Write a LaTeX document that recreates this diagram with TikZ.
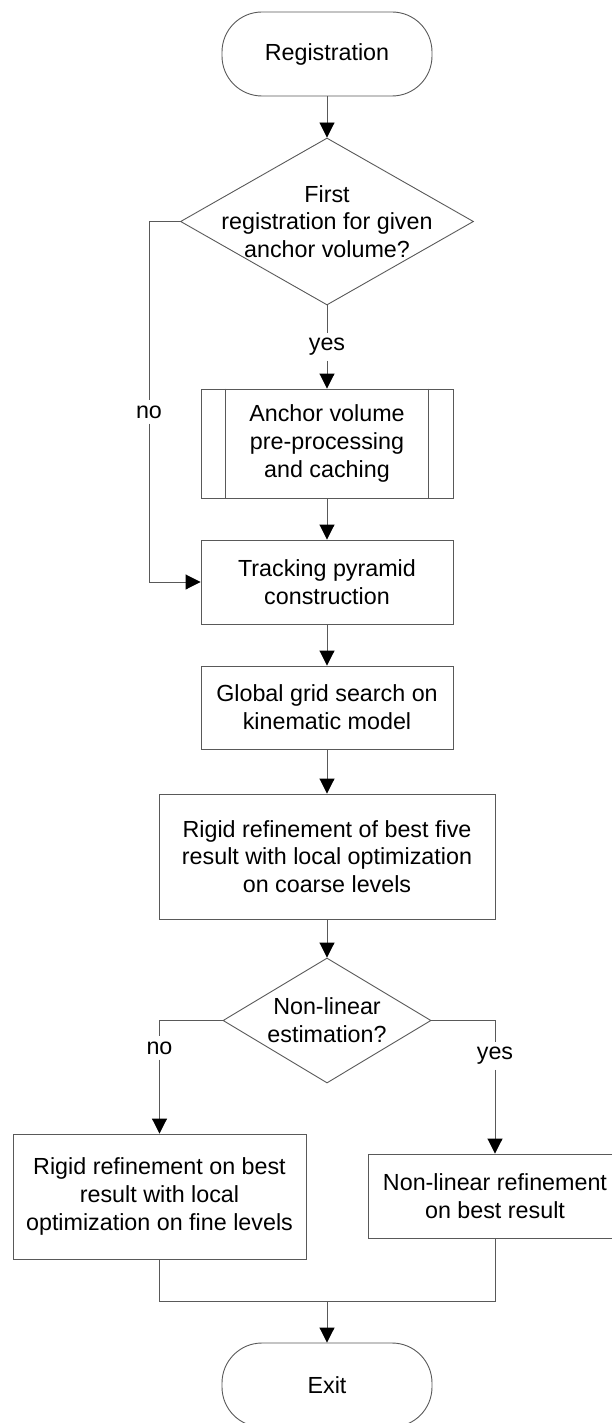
\documentclass[tikz,border=0pt]{standalone}
\usepackage{fontspec}
\setmainfont{Liberation Sans}
\usetikzlibrary{shapes.geometric, arrows.meta, positioning}

\begin{document}
\begin{tikzpicture}[x=1pt, y=-1pt, font=\fontsize{23.3}{27.8}\selectfont,
  connector/.style={draw=black!65, line width=0.9pt},
  flow/.style={connector, -{Triangle[length=15pt, width=15pt, color=black]}},
  terminal/.style={connector, rounded corners=40pt, minimum width=210pt, minimum height=84pt},
  process/.style={connector, align=center, inner sep=0pt},
  decision/.style={connector, diamond, inner sep=0pt},
  answer/.style={inner sep=5pt}]
  \useasboundingbox (0,0) rectangle (611,1423);
  % Terminals
  \node[terminal] (start) at (327,54) {Registration};
  \node[terminal] (exit) at (327,1385) {Exit};
  % First decision
  \node[decision, minimum width=293pt, minimum height=167pt] (first) at (327,221.5) {};
  \node[align=center] (firsttext) at (first.center) {First\\registration for given\\anchor volume?};
  % Pre-processing (predefined process)
  \node[process, minimum width=252pt, minimum height=109pt] (proc) at (327,443.5) {Anchor volume\\pre-processing\\and caching};
  \foreach \side/\dx in {west/25, east/-25}
    \draw[connector] ([xshift=\dx pt]proc.north \side) -- ([xshift=\dx pt]proc.south \side);
  % Main steps
  \node[process, minimum width=252pt, minimum height=84pt] (track) at (327,582) {Tracking pyramid\\construction};
  \node[process, minimum width=252pt, minimum height=83pt] (grid) at (327,707.5) {Global grid search on\\kinematic model};
  \node[process, minimum width=336pt, minimum height=125pt] (rigid) at (327,856.5) {Rigid refinement of best five\\result with local optimization\\on coarse levels};
  % Second decision
  \node[decision, minimum width=208pt, minimum height=125pt] (second) at (327,1020.5) {};
  \node[align=center] (secondtext) at (second.center) {Non-linear\\estimation?};
  % Final refinements
  \node[process, minimum width=293pt, minimum height=125pt] (fine) at (159.5,1196.5) {Rigid refinement on best\\result with local\\optimization on fine levels};
  \node[process, minimum width=253pt, minimum height=84pt] (nonlin) at (495,1196) {Non-linear refinement\\on best result};
  % Branch labels
  \node[answer] (yesA) at (327,347) {yes};
  \node[answer] (noA) at (149,412) {no};
  \node[answer] (noB) at (159.5,1048) {no};
  \node[answer] (yesB) at (495,1056) {yes};
  % Connectors
  \draw[flow] (start) -- (first);
  \draw[connector] (first) -- (yesA);
  \draw[flow] (yesA) -- (proc);
  \draw[flow] (proc) -- (track);
  \draw[connector] (first.west) -| (noA.north);
  \draw[flow] (noA.south) |- (track.west);
  \draw[flow] (track) -- (grid);
  \draw[flow] (grid) -- (rigid);
  \draw[flow] (rigid) -- (second);
  \draw[connector] (second.west) -| (noB.north);
  \draw[flow] (noB) -- (fine);
  \draw[connector] (second.east) -| (yesB.north);
  \draw[flow] (yesB) -- (nonlin);
  \coordinate (merge) at (327,1301);
  \draw[connector] (fine.south) |- (merge) -| (nonlin.south);
  \draw[flow] (merge) -- (exit);
\end{tikzpicture}
\end{document}
